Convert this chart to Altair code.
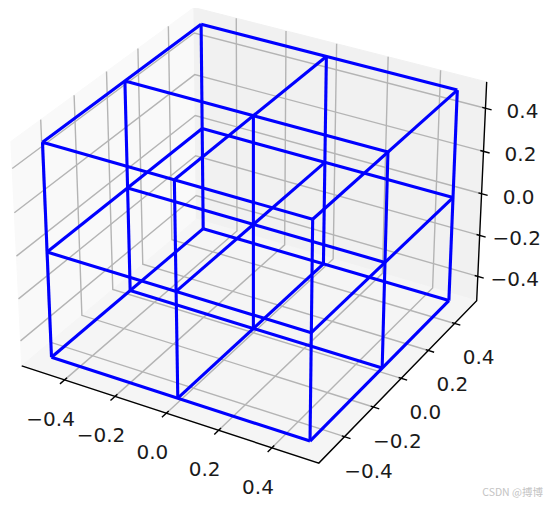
import numpy as np
import pandas as pd
import altair as alt

# --- values ---
wire_values = [-0.5, 0.0, 0.5]
tick_values = [-0.4, -0.2, 0.0, 0.2, 0.4]
tick_text = ["\u22120.4", "\u22120.2", "0.0", "0.2", "0.4"]
X_LIM = 0.5729
Y_LIM = 0.5729
Z_LIM = 0.5208
ELEV, AZIM = 30.0, -60.0
# calibration: data corner -> picture position
calib_xyz = [
    (-X_LIM, Y_LIM, Z_LIM), (-X_LIM, -Y_LIM, Z_LIM), (X_LIM, Y_LIM, Z_LIM),
    (X_LIM, Y_LIM, -Z_LIM), (X_LIM, -Y_LIM, -Z_LIM), (-X_LIM, -Y_LIM, -Z_LIM),
    (-0.5, -0.5, 0.5), (-0.5, 0.5, 0.5), (0.5, 0.5, 0.5), (0.5, -0.5, 0.5),
    (-0.5, -0.5, -0.5), (0.5, -0.5, -0.5), (0.5, 0.5, -0.5), (-0.5, 0.5, -0.5),
]
calib_px = [
    (194, 8), (12, 141), (487, 82), (477, 301), (319, 463), (21, 366),
    (42, 142), (201, 24), (457, 90), (312, 219),
    (52, 357), (310, 441), (449, 301), (203, 229),
]

# --- mplot3d view ---
aspect = np.array([4.0, 4.0, 3.0])
box = aspect * 1.8294640721620434 * 25 / 24 / np.linalg.norm(aspect)
el, az = np.radians(ELEV), np.radians(AZIM)
n = np.array([np.cos(el) * np.cos(az), np.cos(el) * np.sin(az), np.sin(el)])
eye = 0.5 * box + 10 * n
u = np.cross([0, 0, 1.0], n)
u /= np.linalg.norm(u)
v = np.cross(n, u)


def raw(p):
    q = (np.array(p) + np.array([X_LIM, Y_LIM, Z_LIM])) / np.array(
        [2 * X_LIM, 2 * Y_LIM, 2 * Z_LIM]
    ) * box
    d = q - eye
    dep = -n.dot(d)
    return u.dot(d) / dep, v.dot(d) / dep


rs = np.array([raw(p) for p in calib_xyz])
cp = np.array(calib_px, dtype=float)
ax_, bx_ = np.linalg.lstsq(np.c_[rs[:, 0], np.ones(len(rs))], cp[:, 0], rcond=None)[0]
ay_, by_ = np.linalg.lstsq(np.c_[rs[:, 1], np.ones(len(rs))], cp[:, 1], rcond=None)[0]


def proj(p):
    a, b = raw(p)
    return ax_ * a + bx_, ay_ * b + by_


def table(polylines):
    rows = []
    for s, line in enumerate(polylines):
        for i, p in enumerate(line):
            px, py = proj(p)
            rows.append({"s": s, "i": i, "px": px, "py": py})
    return pd.DataFrame(rows)


xs = alt.X("px:Q", scale=alt.Scale(domain=[8, 544], range=[0, 536]), axis=None)
ys = alt.Y("py:Q", scale=alt.Scale(domain=[499, 8], range=[491, 0]), axis=None)


def lines(polylines, color, width):
    return alt.Chart(table(polylines)).mark_line(
        color=color, strokeWidth=width, strokeCap="butt", clip=False
    ).encode(x=xs, y=ys, detail="s:N", order="i:Q")


def pane(corners, fill):
    pts = [proj(c) for c in corners]
    ring = [[a - 8, b - 8] for a, b in pts]
    ring.append(ring[0])
    feat = {"type": "Feature", "properties": {},
            "geometry": {"type": "Polygon", "coordinates": [ring]}}
    return alt.Chart(alt.Data(values=[feat])).mark_geoshape(
        fill=fill, stroke=fill, strokeWidth=1
    ).project(type="identity", scale=1, translate=[0, 0])


xa, ya, za = X_LIM, Y_LIM, Z_LIM
panes = [
    pane([(-xa, -ya, -za), (-xa, ya, -za), (-xa, ya, za), (-xa, -ya, za)], "#f9f9f9"),
    pane([(-xa, ya, -za), (xa, ya, -za), (xa, ya, za), (-xa, ya, za)], "#f1f1f1"),
    pane([(-xa, -ya, -za), (xa, -ya, -za), (xa, ya, -za), (-xa, ya, -za)], "#f5f5f5"),
]

grid = []
for t in tick_values:
    grid.append([(t, -ya, -za), (t, ya, -za), (t, ya, za)])
    grid.append([(xa, t, -za), (-xa, t, -za), (-xa, t, za)])
    grid.append([(-xa, -ya, t), (-xa, ya, t), (xa, ya, t)])

axis_lines = [
    [(-xa, -ya, -za), (xa, -ya, -za), (xa, ya, -za), (xa, ya, za)],
]
ticks = []
for t in tick_values:
    ticks.append([(t, -ya + 0.015, -za), (t, -ya - 0.028, -za)])
    ticks.append([(xa - 0.01, t, -za), (xa + 0.022, t, -za)])
    ticks.append([(xa - 0.012, ya, t), (xa + 0.023, ya, t)])

wires = []
V = wire_values
for a in V:
    for b in V:
        wires.append([(V[0], a, b), (V[2], a, b)])
        wires.append([(a, V[0], b), (a, V[2], b)])
        wires.append([(a, b, V[0]), (a, b, V[2])])


def labels(points, dx, dy):
    rows = []
    for p, s in zip(points, tick_text):
        px, py = proj(p)
        rows.append({"px": px, "py": py, "s": s})
    return alt.Chart(pd.DataFrame(rows)).mark_text(
        font="DejaVu Sans", fontSize=20, color="#1a1a1a", dx=dx, dy=dy,
        align="center", baseline="middle",
    ).encode(x=xs, y=ys, text="s:N")


layers = panes + [
    lines(grid, "#b4b4b4", 1.4),
    lines(axis_lines, "#000000", 1.4),
    lines(ticks, "#000000", 1.4),
    lines(wires, "#0000ff", 3.1),
    labels([(t, -ya, -za) for t in tick_values], -14, 40),
    labels([(xa, t, -za) for t in tick_values], 24, 35),
    labels([(xa, ya, t) for t in tick_values], 37, 4),
    alt.Chart(pd.DataFrame({"px": [543], "py": [492.5], "s": ["CSDN @\u640f\u535a"]})).mark_text(
        font="Noto Sans CJK SC", fontSize=10.5, color="#c4c4c4", align="right", baseline="middle"
    ).encode(x=xs, y=ys, text="s:N"),
]

chart = alt.layer(*layers).resolve_scale(x="shared", y="shared").properties(
    width=536, height=491, padding=0, autosize=alt.AutoSizeParams(type="none")
).configure_view(stroke=None)

chart.save("out.html", embed_options={"renderer": "svg", "actions": False})
